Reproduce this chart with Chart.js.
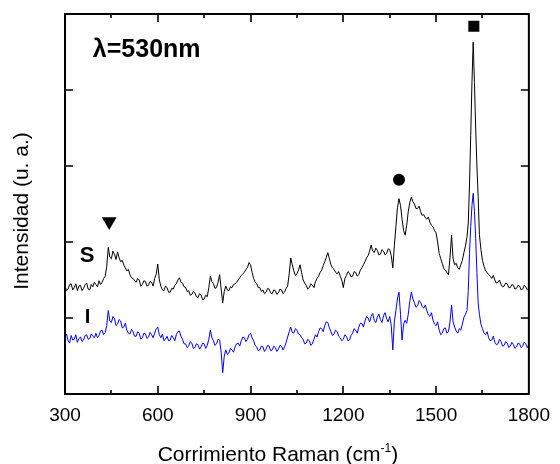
<!DOCTYPE html>
<html lang="es">
<head>
<meta charset="utf-8">
<title>Espectro Raman</title>
<script src="https://cdn.jsdelivr.net/npm/chart.js@4/dist/chart.umd.min.js"></script>
<style>
  html, body { margin: 0; padding: 0; background: #fff; }
</style>
</head>
<body>
<canvas id="raman" width="560" height="464"></canvas>
<script>
// Corrimiento Raman (cm-1), compartido por los dos espectros
const desplazamiento = [
  300, 305, 310, 315, 320, 325, 330, 335, 340, 345, 350, 355, 360, 365, 370, 375, 380, 385, 390, 395,
  400, 405, 410, 415, 420, 425, 430, 435, 440, 445, 450, 455, 460, 465, 470, 475, 480, 485, 490, 495,
  500, 505, 510, 515, 520, 525, 530, 535, 540, 545, 550, 555, 560, 565, 570, 575, 580, 585, 590, 595,
  600, 605, 610, 615, 620, 625, 630, 635, 640, 645, 650, 655, 660, 665, 670, 675, 680, 685, 690, 695,
  700, 705, 710, 715, 720, 725, 730, 735, 740, 745, 750, 755, 760, 765, 770, 775, 780, 785, 790, 795,
  800, 805, 810, 815, 820, 825, 830, 835, 840, 845, 850, 855, 860, 865, 870, 875, 880, 885, 890, 895,
  900, 905, 910, 915, 920, 925, 930, 935, 940, 945, 950, 955, 960, 965, 970, 975, 980, 985, 990, 995,
  1000, 1005, 1010, 1015, 1020, 1025, 1030, 1035, 1040, 1045, 1050, 1055, 1060, 1065, 1070, 1075, 1080, 1085, 1090, 1095,
  1100, 1105, 1110, 1115, 1120, 1125, 1130, 1135, 1140, 1145, 1150, 1155, 1160, 1165, 1170, 1175, 1180, 1185, 1190, 1195,
  1200, 1205, 1210, 1215, 1220, 1225, 1230, 1235, 1240, 1245, 1250, 1255, 1260, 1265, 1270, 1275, 1280, 1285, 1290, 1295,
  1300, 1305, 1310, 1315, 1320, 1325, 1330, 1335, 1340, 1345, 1350, 1355, 1360, 1365, 1370, 1375, 1380, 1385, 1390, 1395,
  1400, 1405, 1410, 1415, 1420, 1425, 1430, 1435, 1440, 1445, 1450, 1455, 1460, 1465, 1470, 1475, 1480, 1485, 1490, 1495,
  1500, 1505, 1510, 1515, 1520, 1525, 1530, 1535, 1540, 1545, 1550, 1555, 1560, 1565, 1570, 1575, 1580, 1585, 1590, 1595,
  1600,
  1604, 1608, 1612, 1616, 1620, 1624, 1628, 1632, 1636, 1640, 1645, 1650,
  1655, 1660, 1665, 1670, 1675, 1680, 1685, 1690, 1695, 1700, 1705, 1710, 1715, 1720, 1725,
  1730, 1735, 1740, 1745, 1750, 1755, 1760, 1765, 1770, 1775, 1780, 1785, 1790, 1795, 1800,
];

// muestra S (negro)
const intensidadS = [
  1.42, 1.36, 1.38, 1.44, 1.45, 1.37, 1.40, 1.45, 1.36, 1.42, 1.43, 1.36, 1.39, 1.44, 1.46, 1.38, 1.37, 1.44, 1.41, 1.47,
  1.44, 1.41, 1.49, 1.44, 1.47, 1.52, 1.55, 1.68, 1.93, 1.80, 1.78, 1.88, 1.84, 1.77, 1.87, 1.79, 1.74, 1.76, 1.70, 1.66,
  1.62, 1.64, 1.57, 1.53, 1.52, 1.49, 1.47, 1.52, 1.50, 1.42, 1.44, 1.49, 1.48, 1.42, 1.43, 1.48, 1.47, 1.42, 1.52, 1.58,
  1.71, 1.50, 1.42, 1.37, 1.36, 1.42, 1.40, 1.34, 1.34, 1.39, 1.38, 1.43, 1.45, 1.50, 1.53, 1.47, 1.46, 1.41, 1.40, 1.35,
  1.36, 1.30, 1.31, 1.35, 1.33, 1.28, 1.27, 1.32, 1.30, 1.24, 1.25, 1.30, 1.28, 1.40, 1.55, 1.48, 1.45, 1.39, 1.40, 1.47,
  1.57, 1.38, 1.20, 1.35, 1.42, 1.37, 1.36, 1.41, 1.40, 1.44, 1.45, 1.47, 1.50, 1.53, 1.56, 1.58, 1.60, 1.64, 1.66, 1.73,
  1.70, 1.60, 1.52, 1.47, 1.45, 1.40, 1.40, 1.35, 1.37, 1.32, 1.34, 1.39, 1.38, 1.33, 1.32, 1.37, 1.36, 1.31, 1.33, 1.38,
  1.37, 1.32, 1.34, 1.39, 1.42, 1.58, 1.79, 1.70, 1.62, 1.56, 1.58, 1.63, 1.70, 1.60, 1.50, 1.46, 1.43, 1.38, 1.40, 1.45,
  1.43, 1.40, 1.48, 1.52, 1.55, 1.60, 1.63, 1.69, 1.74, 1.80, 1.86, 1.78, 1.70, 1.66, 1.64, 1.60, 1.58, 1.61, 1.55, 1.50,
  1.40, 1.52, 1.56, 1.61, 1.59, 1.54, 1.55, 1.61, 1.60, 1.55, 1.57, 1.63, 1.66, 1.70, 1.74, 1.79, 1.82, 1.88, 1.96, 1.88,
  1.86, 1.92, 1.89, 1.83, 1.84, 1.90, 1.88, 1.83, 1.85, 1.91, 1.90, 1.82, 1.66, 1.95, 2.20, 2.45, 2.57, 2.48, 2.30, 2.15,
  2.09, 2.22, 2.40, 2.52, 2.59, 2.53, 2.50, 2.44, 2.44, 2.47, 2.40, 2.35, 2.36, 2.32, 2.30, 2.33, 2.26, 2.22, 2.20, 2.15,
  2.12, 2.00, 1.85, 1.78, 1.72, 1.65, 1.63, 1.60, 1.57, 1.80, 2.09, 1.78, 1.70, 1.72, 1.66, 1.64, 1.70, 1.76, 1.86, 1.95,
  2.07,
  2.25, 2.75, 3.40, 4.10, 4.63, 4.10, 3.50, 3.00, 2.60, 2.10, 1.90, 1.76,
  1.68, 1.62, 1.60, 1.57, 1.55, 1.52, 1.56, 1.50, 1.46, 1.47, 1.50, 1.44, 1.41, 1.42, 1.46,
  1.45, 1.40, 1.40, 1.44, 1.43, 1.38, 1.39, 1.43, 1.42, 1.37, 1.38, 1.43, 1.41, 1.37, 1.39,
];

// muestra I (azul)
const intensidadI = [
  0.74, 0.79, 0.70, 0.67, 0.77, 0.71, 0.72, 0.78, 0.68, 0.73, 0.75, 0.69, 0.71, 0.77, 0.78, 0.72, 0.73, 0.79, 0.76, 0.74,
  0.80, 0.74, 0.77, 0.83, 0.84, 0.78, 0.81, 0.90, 1.10, 0.96, 0.94, 1.02, 0.99, 0.90, 0.92, 0.98, 0.96, 0.87, 0.88, 0.93,
  0.84, 0.80, 0.79, 0.85, 0.82, 0.76, 0.76, 0.82, 0.80, 0.72, 0.74, 0.80, 0.79, 0.73, 0.75, 0.81, 0.78, 0.74, 0.80, 0.86,
  0.88, 0.78, 0.74, 0.79, 0.70, 0.72, 0.76, 0.70, 0.71, 0.77, 0.74, 0.70, 0.78, 0.82, 0.83, 0.76, 0.72, 0.66, 0.66, 0.61,
  0.63, 0.69, 0.67, 0.60, 0.61, 0.66, 0.65, 0.59, 0.62, 0.67, 0.66, 0.60, 0.64, 0.72, 0.84, 0.74, 0.70, 0.64, 0.66, 0.72,
  0.71, 0.55, 0.28, 0.50, 0.58, 0.52, 0.54, 0.60, 0.58, 0.55, 0.62, 0.66, 0.67, 0.63, 0.70, 0.75, 0.74, 0.69, 0.72, 0.78,
  0.80, 0.74, 0.70, 0.64, 0.62, 0.57, 0.58, 0.63, 0.62, 0.56, 0.59, 0.64, 0.63, 0.57, 0.58, 0.63, 0.61, 0.56, 0.59, 0.64,
  0.63, 0.58, 0.62, 0.68, 0.75, 0.82, 0.88, 0.81, 0.80, 0.86, 0.84, 0.79, 0.78, 0.74, 0.72, 0.66, 0.67, 0.72, 0.70, 0.64,
  0.66, 0.72, 0.78, 0.75, 0.82, 0.87, 0.86, 0.82, 0.90, 0.95, 0.94, 0.87, 0.82, 0.77, 0.79, 0.84, 0.82, 0.76, 0.74, 0.70,
  0.72, 0.78, 0.76, 0.70, 0.71, 0.77, 0.80, 0.86, 0.84, 0.80, 0.88, 0.93, 0.93, 0.88, 0.96, 1.02, 1.00, 0.95, 1.02, 1.06,
  0.97, 0.94, 1.01, 1.05, 0.98, 0.94, 1.03, 1.07, 0.99, 0.95, 1.02, 0.90, 0.58, 0.95, 1.10, 1.25, 1.34, 1.05, 0.71, 0.92,
  0.97, 0.93, 1.05, 1.22, 1.34, 1.25, 1.20, 1.14, 1.16, 1.23, 1.21, 1.15, 1.13, 1.17, 1.10, 1.04, 1.02, 1.07, 0.97, 0.92,
  0.90, 0.95, 0.84, 0.78, 0.80, 0.86, 0.87, 0.80, 0.82, 0.95, 1.17, 0.95, 0.88, 0.83, 0.80, 0.86, 0.84, 0.92, 1.01, 1.05,
  1.10,
  1.35, 1.85, 2.20, 2.48, 2.64, 2.40, 2.05, 1.60, 1.20, 1.05, 0.92, 0.86,
  0.80, 0.78, 0.82, 0.74, 0.70, 0.71, 0.76, 0.68, 0.65, 0.66, 0.72, 0.69, 0.63, 0.64, 0.69,
  0.67, 0.61, 0.63, 0.68, 0.65, 0.60, 0.62, 0.67, 0.66, 0.61, 0.63, 0.68, 0.66, 0.61, 0.65,
];

// símbolos sobre las bandas: ▼ ● ■
const marcaX = [443, 1380, 1622];
const marcaY = [2.27, 2.82, 4.84];
const marcaForma = ['triangle', 'circle', 'rect'];

const etiquetasX = [300, 600, 900, 1200, 1500, 1800];
const marcasY = [1, 2, 3, 4];

const FUENTE = "'Liberation Sans', Arial, Helvetica, sans-serif";

const puntos = ys => desplazamiento.map((x, i) => ({ x, y: ys[i] }));

// marco cerrado con marcas hacia dentro en los cuatro lados
const marco = {
  id: 'marco',
  afterDatasetsDraw(chart) {
    const { ctx, chartArea: a, scales: { x, y } } = chart;
    ctx.save();
    ctx.strokeStyle = '#000';
    ctx.lineWidth = 1.6;
    ctx.beginPath();
    x.ticks.forEach(t => {
      if (t.value <= x.min || t.value >= x.max) return;
      const px = Math.round(x.getPixelForValue(t.value));
      const len = etiquetasX.includes(t.value) ? 8 : 4;
      ctx.moveTo(px, a.bottom); ctx.lineTo(px, a.bottom - len);
      ctx.moveTo(px, a.top); ctx.lineTo(px, a.top + len);
    });
    marcasY.forEach(v => {
      const py = Math.round(y.getPixelForValue(v));
      ctx.moveTo(a.left, py); ctx.lineTo(a.left + 8, py);
      ctx.moveTo(a.right, py); ctx.lineTo(a.right - 8, py);
    });
    ctx.stroke();
    ctx.lineWidth = 2;
    ctx.strokeRect(a.left, a.top, a.right - a.left, a.bottom - a.top);
    ctx.restore();
  },
};

// títulos de ejes y rótulos dentro del gráfico
const textos = {
  id: 'textos',
  afterDraw(chart) {
    const { ctx, chartArea: a, scales: { x, y } } = chart;
    ctx.save();
    ctx.fillStyle = '#000';
    ctx.textBaseline = 'alphabetic';
    ctx.textAlign = 'left';

    ctx.font = `bold 25px ${FUENTE}`;
    ctx.fillText('λ=530nm', x.getPixelForValue(390), y.getPixelForValue(4.44));
    ctx.font = `bold 22px ${FUENTE}`;
    ctx.fillText('S', x.getPixelForValue(348), y.getPixelForValue(1.74));
    ctx.font = `bold 20px ${FUENTE}`;
    ctx.fillText('I', x.getPixelForValue(364), y.getPixelForValue(0.93));

    // eje x con superíndice
    const base = 'Corrimiento Raman (cm';
    ctx.font = `21px ${FUENTE}`;
    const w1 = ctx.measureText(base).width;
    const w3 = ctx.measureText(')').width;
    ctx.font = `12px ${FUENTE}`;
    const w2 = ctx.measureText('-1').width;
    let cx = (a.left + a.right) / 2 - 19 - (w1 + w2 + w3) / 2;
    const by = a.bottom + 67;
    ctx.font = `21px ${FUENTE}`;
    ctx.fillText(base, cx, by);
    cx += w1;
    ctx.font = `12px ${FUENTE}`;
    ctx.fillText('-1', cx, by - 9);
    cx += w2;
    ctx.font = `21px ${FUENTE}`;
    ctx.fillText(')', cx, by);

    // eje y girado
    ctx.translate(a.left - 37, (a.top + a.bottom) / 2 + 7);
    ctx.rotate(-Math.PI / 2);
    ctx.textAlign = 'center';
    ctx.font = `21px ${FUENTE}`;
    ctx.fillText('Intensidad (u. a.)', 0, 0);
    ctx.restore();
  },
};

new Chart(document.getElementById('raman'), {
  type: 'line',
  data: {
    datasets: [
      {
        label: 'I', data: puntos(intensidadI),
        borderColor: '#0000ff', borderWidth: 1, pointRadius: 0, tension: 0, order: 1,
      },
      {
        label: 'S', data: puntos(intensidadS),
        borderColor: '#000000', borderWidth: 1, pointRadius: 0, tension: 0, order: 2,
      },
      {
        type: 'scatter', label: 'bandas',
        data: marcaX.map((x, i) => ({ x, y: marcaY[i] })),
        pointStyle: marcaForma, pointRadius: [8.5, 6, 7.8], rotation: [180, 0, 0],
        backgroundColor: '#000', borderColor: '#000', borderWidth: 0, order: 0,
      },
    ],
  },
  options: {
    responsive: false,
    animation: false,
    devicePixelRatio: 1,
    layout: { padding: { top: 14, left: 65, right: 27, bottom: 0 } },
    plugins: { legend: { display: false }, tooltip: { enabled: false } },
    scales: {
      x: {
        type: 'linear', min: 300, max: 1800,
        grid: { display: false, drawTicks: false },
        border: { display: false },
        ticks: {
          stepSize: 150, padding: 10, color: '#000', maxRotation: 0, autoSkip: false,
          font: { family: FUENTE, size: 19 },
          callback: v => (etiquetasX.includes(v) ? String(v) : ''),
        },
        afterFit: s => { s.height = 70; },
      },
      y: { type: 'linear', min: 0, max: 5, display: false },
    },
  },
  plugins: [marco, textos],
});
</script>
</body>
</html>
